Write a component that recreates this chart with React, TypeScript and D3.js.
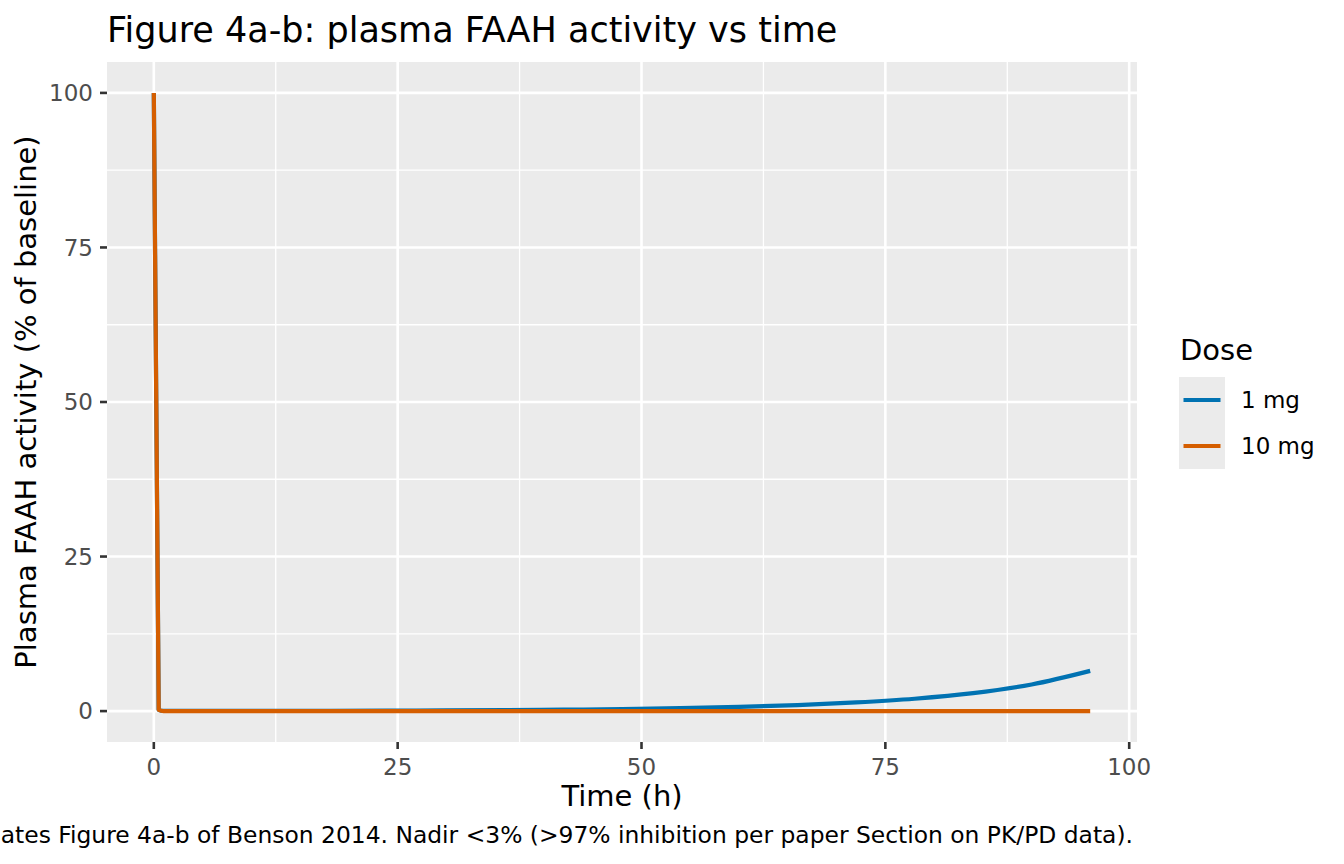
import * as d3 from "d3";

// time (h) and plasma FAAH activity (% of baseline)
const time1mg = [0, 0.5, 1, 6, 12, 18, 24, 30, 36, 42, 48, 54, 60, 66, 72, 78, 84, 90, 96];
const faah1mg = [100, 0.2, 0.02, 0.02, 0.03, 0.05, 0.08, 0.11, 0.16, 0.23, 0.33, 0.47, 0.68, 0.97, 1.4, 2.0, 2.9, 4.3, 6.5];
const time10mg = [0, 0.5, 1, 12, 24, 48, 72, 96];
const faah10mg = [100, 0.2, 0.01, 0.01, 0.01, 0.01, 0.01, 0.01];

const doses = ["1 mg", "10 mg"];
const doseColors = ["#0072B2", "#D55E00"];
const xTicks = [0, 25, 50, 75, 100];
const yTicks = [0, 25, 50, 75, 100];

const W = 1344;
const H = 864;
const panel = { left: 107, right: 1137, top: 62, bottom: 742 };

export default function App() {
  const x = d3.scaleLinear().domain([-4.8, 100.8]).range([panel.left, panel.right]);
  const y = d3.scaleLinear().domain([-5, 105]).range([panel.bottom, panel.top]);

  const series = [
    { t: time1mg, v: faah1mg },
    { t: time10mg, v: faah10mg },
  ];
  const line = d3
    .line<[number, number]>()
    .x((d) => x(d[0]))
    .y((d) => y(d[1]))
    .curve(d3.curveMonotoneX);

  const minorX = [12.5, 37.5, 62.5, 87.5];
  const minorY = [12.5, 37.5, 62.5, 87.5];
  const font = "DejaVu Sans, sans-serif";

  return (
    <svg
      width={W}
      height={H}
      style={{ position: "absolute", left: 0, top: 0, background: "#fff" }}
      fontFamily={font}
    >
      <rect x={panel.left} y={panel.top} width={panel.right - panel.left} height={panel.bottom - panel.top} fill="#EBEBEB" />
      {minorX.map((d) => (
        <line key={"mx" + d} x1={x(d)} x2={x(d)} y1={panel.top} y2={panel.bottom} stroke="#fff" strokeWidth={1.3} />
      ))}
      {minorY.map((d) => (
        <line key={"my" + d} x1={panel.left} x2={panel.right} y1={y(d)} y2={y(d)} stroke="#fff" strokeWidth={1.3} />
      ))}
      {xTicks.map((d) => (
        <line key={"gx" + d} x1={x(d)} x2={x(d)} y1={panel.top} y2={panel.bottom} stroke="#fff" strokeWidth={2.6} />
      ))}
      {yTicks.map((d) => (
        <line key={"gy" + d} x1={panel.left} x2={panel.right} y1={y(d)} y2={y(d)} stroke="#fff" strokeWidth={2.6} />
      ))}

      {series.map((s, i) => (
        <path
          key={doses[i]}
          d={line(s.t.map((t, j) => [t, s.v[j]] as [number, number])) ?? ""}
          fill="none"
          stroke={doseColors[i]}
          strokeWidth={4.2}
          strokeLinejoin="round"
        />
      ))}

      {/* axes */}
      {xTicks.map((d) => (
        <g key={"tx" + d}>
          <line x1={x(d)} x2={x(d)} y1={panel.bottom} y2={panel.bottom + 7} stroke="#333" strokeWidth={2.6} />
          <text x={x(d)} y={775} textAnchor="middle" fontSize={23} fill="#4D4D4D">
            {d}
          </text>
        </g>
      ))}
      {yTicks.map((d) => (
        <g key={"ty" + d}>
          <line x1={panel.left - 7} x2={panel.left} y1={y(d)} y2={y(d)} stroke="#333" strokeWidth={2.6} />
          <text x={panel.left - 14} y={y(d)} dy="0.36em" textAnchor="end" fontSize={23} fill="#4D4D4D">
            {d}
          </text>
        </g>
      ))}

      <text x={(panel.left + panel.right) / 2} y={806} textAnchor="middle" fontSize={29} fill="#000">
        Time (h)
      </text>
      <text
        transform={`translate(36,${(panel.top + panel.bottom) / 2}) rotate(-90)`}
        textAnchor="middle"
        fontSize={29}
        fill="#000"
      >
        Plasma FAAH activity (% of baseline)
      </text>
      <text x={107} y={41.5} fontSize={35} fill="#000">
        Figure 4a-b: plasma FAAH activity vs time
      </text>
      {/* caption is right-aligned to the panel and runs off the left edge, as in the original */}
      <text x={1133} y={843} textAnchor="end" fontSize={23.4} fill="#000">
        Replicates Figure 4a-b of Benson 2014. Nadir &lt;3% (&gt;97% inhibition per paper Section on PK/PD data).
      </text>

      {/* legend */}
      <text x={1180} y={360} fontSize={29} fill="#000">
        Dose
      </text>
      {doses.map((d, i) => (
        <g key={"lg" + d} transform={`translate(1179,${377 + i * 46})`}>
          <rect width={46} height={46} fill="#EBEBEB" />
          <line x1={4.5} x2={41.5} y1={23} y2={23} stroke={doseColors[i]} strokeWidth={4.2} />
          <text x={62} y={23} dy="0.36em" fontSize={23} fill="#000">
            {d}
          </text>
        </g>
      ))}
    </svg>
  );
}
